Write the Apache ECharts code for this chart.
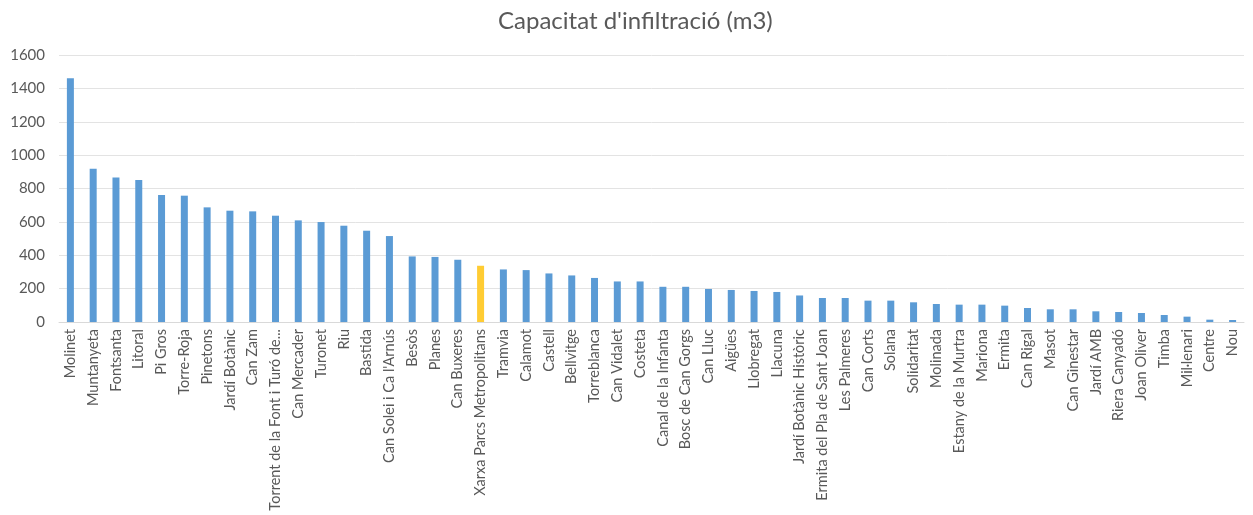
<!DOCTYPE html>
<html>
<head>
<meta charset="utf-8">
<script src="https://cdn.jsdelivr.net/npm/echarts@6/dist/echarts.min.js"></script>
<style>
html,body{margin:0;padding:0;background:#fff;}
#chart{width:1253px;height:515px;}
</style>
</head>
<body>
<div id="chart"></div>
<script>
const titleText = "Capacitat d'infiltració (m3)";
const categories = [
  "Molinet","Muntanyeta","Fontsanta","Litoral","Pi Gros","Torre-Roja","Pinetons","Jardí Botànic","Can Zam",
  "Torrent de la Font i Turó de...","Can Mercader","Turonet","Riu","Bastida","Can Solei i Ca l'Arnús","Besòs",
  "Planes","Can Buxeres","Xarxa Parcs Metropolitans","Tramvia","Calamot","Castell","Bellvitge","Torreblanca",
  "Can Vidalet","Costeta","Canal de la Infanta","Bosc de Can Gorgs","Can Lluc","Aigües","Llobregat","Llacuna",
  "Jardí Botànic Històric","Ermita del Pla de Sant Joan","Les Palmeres","Can Corts","Solana","Solidaritat",
  "Molinada","Estany de la Murtra","Mariona","Ermita","Can Rigal","Masot","Can Ginestar","Jardí AMB",
  "Riera Canyadó","Joan Oliver","Timba","Mil·lenari","Centre","Nou"
];
const values = [
  1460, 918, 866, 851, 761, 757, 687, 667, 663,
  637, 609, 599, 577, 547, 515, 393,
  390, 373, 337, 315, 311, 291, 279, 264,
  243, 243, 211, 211, 198, 192, 186, 180,
  159, 144, 144, 128, 128, 118,
  108, 104, 104, 98, 84, 76, 76, 64,
  60, 54, 42, 32, 14, 12
];
const highlightCategory = "Xarxa Parcs Metropolitans";
const yTicks = [0, 200, 400, 600, 800, 1000, 1200, 1400, 1600];

const blue = '#5B9BD5';
const gold = '#FFCC33';

const chart = echarts.init(document.getElementById('chart'));
chart.setOption({
  animation: false,
  backgroundColor: '#fff',
  title: {
    text: titleText,
    left: 493,
    top: 4,
    textStyle: { fontFamily: 'Lato', fontSize: 24, fontWeight: 'normal', color: '#595959' }
  },
  grid: { left: 59, right: 9, top: 55, bottom: 193, containLabel: false, outerBoundsMode: 'none' },
  xAxis: {
    type: 'category',
    data: categories,
    axisLine: { lineStyle: { color: '#d9d9d9' } },
    axisTick: { show: false },
    axisLabel: {
      rotate: 90, interval: 0, color: '#595959', fontSize: 14.5, fontFamily: 'Lato', margin: 7
    }
  },
  yAxis: {
    type: 'value',
    min: yTicks[0],
    max: yTicks[yTicks.length - 1],
    interval: yTicks[1] - yTicks[0],
    axisLine: { show: false },
    axisTick: { show: false },
    axisLabel: { color: '#595959', fontSize: 15, fontFamily: 'Lato', margin: 14, formatter: v => String(v) },
    splitLine: { lineStyle: { color: '#e3e3e3' } }
  },
  series: [{
    type: 'bar',
    barWidth: 7,
    data: values.map((v, i) => ({
      value: v,
      itemStyle: { color: categories[i] === highlightCategory ? gold : blue }
    }))
  }]
});
</script>
</body>
</html>
